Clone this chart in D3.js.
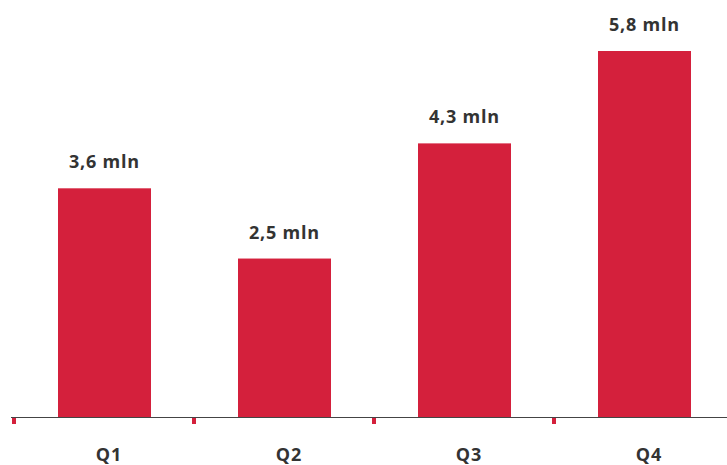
<!DOCTYPE html>
<html><head><meta charset="utf-8">
<script src="https://cdn.jsdelivr.net/npm/d3@7"></script>
<style>html,body{margin:0;padding:0;background:#fff;}</style>
</head><body>
<svg id="c" width="727" height="465"></svg>
<script>
const categories = ["Q1", "Q2", "Q3", "Q4"];
const values = [3.63, 2.52, 4.34, 5.8];
const valueLabels = ["3,6 mln", "2,5 mln", "4,3 mln", "5,8 mln"];

const svg = d3.select("#c");
const baseY = 418, topY = 51;
const x = d3.scaleBand().domain(categories).range([14, 734]).padding(0);
const y = d3.scaleLinear().domain([0, 5.8]).range([baseY, topY]);
const barW = 93;
const barX = c => x(c) + x.bandwidth() / 2 + 0.5 - barW / 2;

svg.append("line").attr("x1", 11).attr("x2", 727).attr("y1", baseY - 0.5).attr("y2", baseY - 0.5)
  .attr("stroke", "#444").attr("stroke-width", 1);

svg.selectAll("rect.tick").data(categories).enter().append("rect")
  .attr("class", "tick").attr("x", c => x(c) - 2).attr("y", baseY).attr("width", 4).attr("height", 6)
  .attr("fill", "#d4203c");

svg.selectAll("rect.bar").data(categories).enter().append("rect")
  .attr("class", "bar")
  .attr("x", c => barX(c))
  .attr("y", (c, i) => y(values[i]))
  .attr("width", barW)
  .attr("height", (c, i) => baseY - 1 - y(values[i]))
  .attr("fill", "#d4203c");

svg.selectAll("text.val").data(categories).enter().append("text")
  .attr("class", "val")
  .attr("x", c => barX(c) + barW / 2)
  .attr("y", (c, i) => y(values[i]) - 20)
  .attr("text-anchor", "middle")
  .attr("font-family", "Open Sans")
  .attr("font-weight", "bold")
  .attr("font-size", 18)
  .attr("letter-spacing", "0.8px")
  .attr("fill", "#333")
  .text((c, i) => valueLabels[i]);

svg.selectAll("text.cat").data(categories).enter().append("text")
  .attr("class", "cat")
  .attr("x", c => x(c) + 95)
  .attr("y", 461)
  .attr("text-anchor", "middle")
  .attr("font-family", "Open Sans")
  .attr("font-weight", "bold")
  .attr("font-size", 18)
  .attr("letter-spacing", "1px")
  .attr("fill", "#333")
  .text(c => c);
</script>
</body></html>
